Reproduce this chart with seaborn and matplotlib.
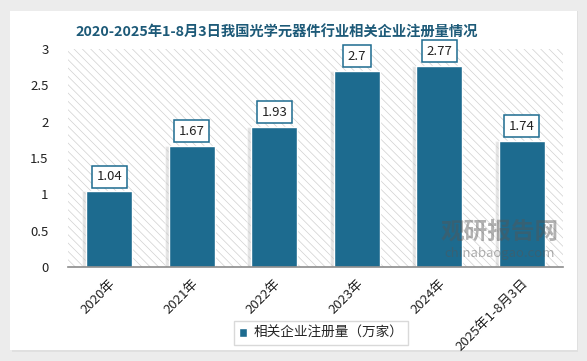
import numpy as np
import pandas as pd
import matplotlib
matplotlib.use("Agg")
import matplotlib.pyplot as plt
from matplotlib.patches import Rectangle
import seaborn as sns

# data
years = ["2020年", "2021年", "2022年", "2023年", "2024年", "2025年1-8月3日"]
counts = [1.04, 1.67, 1.93, 2.7, 2.77, 1.74]
series_name = "相关企业注册量（万家）"
title = "2020-2025年1-8月3日我国光学元器件行业相关企业注册量情况"

bar_color = "#1d6b8f"
title_color = "#1d5a78"

sns.set_theme(style="white")
plt.rcParams["font.family"] = ["Noto Sans CJK SC", "DejaVu Sans"]
plt.rcParams["hatch.color"] = "#d0d0d0"
plt.rcParams["hatch.linewidth"] = 0.5

df = pd.DataFrame({"year": years, "count": counts, "series": series_name})

fig = plt.figure(figsize=(5.87, 3.61), dpi=100)
fig.patch.set_facecolor("#ececec")
# white card with a soft edge
fig.add_artist(Rectangle((12 / 587, 1 - 352 / 361), 566 / 587, 341 / 361,
                         transform=fig.transFigure, facecolor="#e0e0e0",
                         edgecolor="none", zorder=-2))
fig.add_artist(Rectangle((10 / 587, 1 - 350 / 361), 567 / 587, 339 / 361,
                         transform=fig.transFigure, facecolor="white",
                         edgecolor="none", zorder=-1))

ax = fig.add_axes([68 / 587, 1 - 267 / 361, 495 / 587, 218 / 361])
ax.set_zorder(2)
ax.set_facecolor("none")
ax.add_patch(Rectangle((0, 0), 1, 1, transform=ax.transAxes, facecolor="white",
                       hatch="\\\\\\\\", edgecolor="#d0d0d0", linewidth=0, zorder=0))

# shadow behind each bar
x = np.arange(len(years))
ax.bar(x - 0.05, counts, width=0.56, color="#c4c4c4", alpha=0.45, zorder=1)

sns.barplot(data=df, x="year", y="count", hue="series", palette=[bar_color],
            saturation=1, width=0.56, edgecolor="white", linewidth=1, ax=ax,
            zorder=2)

for xi, v in zip(x, counts):
    ax.text(xi, v + 0.2, f"{v:g}", ha="center", va="center", fontsize=9.5,
            color="#222222", zorder=5,
            bbox=dict(boxstyle="square,pad=0.35", facecolor="white",
                      edgecolor=bar_color, linewidth=1.1))

ax.set_ylim(0, 3)
ax.set_xlim(-0.5, len(years) - 0.5)
ax.set_yticks([0, 0.5, 1, 1.5, 2, 2.5, 3])
ax.set_yticklabels(["0", "0.5", "1", "1.5", "2", "2.5", "3"])
ax.tick_params(axis="y", labelsize=9.5, colors="#222222", length=0, pad=14)
ax.tick_params(axis="x", labelsize=9.5, colors="#222222", length=0, pad=7)
plt.setp(ax.get_xticklabels(), rotation=45, ha="right", rotation_mode="anchor")
ax.set_xlabel("")
ax.set_ylabel("")
for side in ["top", "right", "left"]:
    ax.spines[side].set_visible(False)
ax.spines["bottom"].set_color("#8c8c8c")
ax.spines["bottom"].set_linewidth(1.2)

leg = ax.legend(loc="center", bbox_to_anchor=(321 / 587, 1 - 333 / 361),
                bbox_transform=fig.transFigure, frameon=True, fancybox=False,
                fontsize=9.8, handlelength=0.6, handleheight=0.6,
                handletextpad=0.5, borderpad=0.35)
leg.get_frame().set_edgecolor("#d0d0d0")
leg.get_frame().set_linewidth(1)

fig.text(277 / 587, 1 - 33 / 361, title, ha="center", va="center",
         fontsize=10.3, fontweight="bold", color=title_color)

# watermark
ax.text(500 / 587, 1 - 232 / 361, "观研报告网", ha="center", va="center",
        transform=fig.transFigure, fontsize=17, fontweight="bold",
        color="#555555", alpha=0.45, zorder=10)
ax.text(500 / 587, 1 - 254 / 361, "chinabaogao.com", ha="center", va="center",
        transform=fig.transFigure, fontsize=9.5, color="#555555", alpha=0.45,
        zorder=10)

fig.savefig("out.png", dpi=100, facecolor=fig.get_facecolor())
